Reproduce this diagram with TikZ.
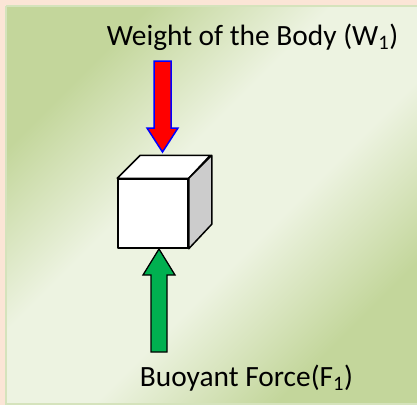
\documentclass[tikz,border=0pt]{standalone}
\usepackage{fontspec}
\setmainfont{Carlito}
\usepackage{xcolor}
\usetikzlibrary{positioning}

\definecolor{peach}{HTML}{FBE5D6}
\definecolor{panelgreen}{HTML}{C3D69B}
\definecolor{panellight}{HTML}{EDF3E1}
\definecolor{panelrim}{HTML}{D5E3BC}
\definecolor{forcered}{HTML}{FF0000}
\definecolor{forceblue}{HTML}{0000FF}
\definecolor{forcegreen}{HTML}{00B050}
\definecolor{sidegray}{HTML}{CCCCCC}

\pgfdeclarehorizontalshading{panelband}{100bp}{color(0bp)=(panelgreen); color(27bp)=(panelgreen); color(43bp)=(panellight); color(57bp)=(panellight); color(73bp)=(panelgreen); color(100bp)=(panelgreen)}

\begin{document}
\begin{tikzpicture}[x=1bp, y=-1bp, every node/.style={font=\fontsize{29.5}{34}\selectfont},
    face/.style={draw=black, line width=1.5bp, line join=round}]
    \useasboundingbox (0,0) rectangle (417,405);
    % Background panel
    \fill[peach] (0,0) rectangle (417,405);
    \shade[shading=panelband, shading angle=-45] (6,6) rectangle (419,404);
    \draw[panelrim, line width=1.5bp] (6,6) -- (419,6) (6,6) -- (6,404) -- (419,404);
    % Labels
    \node[anchor=base] (weight) at (252.5,45) {Weight of the Body (W\textsubscript{1})};
    \node[anchor=base] (buoyant) at (246.5,386) {Buoyant Force(F\textsubscript{1})};
    % Body
    \node[face, fill=white, minimum width=70bp, minimum height=69bp, inner sep=0pt] (cube) at (153,213.5) {};
    \draw[face, fill=white] (cube.north west) -- ++(23,-23) -- ++(70,0) -- (cube.north east) -- cycle;
    \draw[face, fill=sidegray] (cube.north east) -- ++(23,-23) -- ++(0,69) -- (cube.south east) -- cycle;
    % Forces
    \draw[fill=forcered, draw=forceblue, line width=1.5bp, line join=miter] (154,61) -- (171,61) -- (171,128) -- (178,128) -- (162.5,152) -- (147,128) -- (154,128) -- cycle;
    \draw[fill=forcegreen, draw=black, line width=1.3bp, line join=miter] (151,352) -- (167,352) -- (167,275) -- (175,275) -- (159,249) -- (143,275) -- (151,275) -- cycle;
\end{tikzpicture}
\end{document}
